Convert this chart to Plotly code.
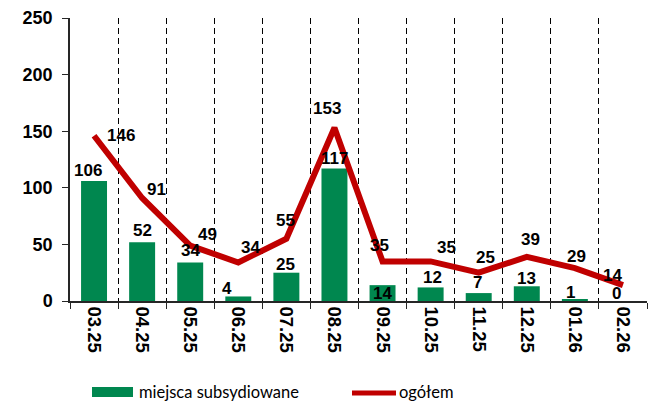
import plotly.graph_objects as go

categories = ["03.25", "04.25", "05.25", "06.25", "07.25", "08.25",
              "09.25", "10.25", "11.25", "12.25", "01.26", "02.26"]
subsidised = [106, 52, 34, 4, 25, 117, 14, 12, 7, 13, 1, 0]
total = [146, 91, 49, 34, 55, 153, 35, 35, 25, 39, 29, 14]

bar_name = "miejsca subsydiowane"
line_name = "ogółem"

GREEN = "#00874F"
RED = "#C00000"
NUM_FONT = dict(family="Liberation Sans, Arial, sans-serif", size=17, color="#000000")

# label offsets (pixels) for styling
bar_lbl_shift = [(-6, 11), (0, 12), (0, 12), (-11, 8), (-1, 8), (0, 10),
                 (0, -8), (2, 10), (-1, 11), (0, 8), (-4, 7), (-6, 8)]
line_lbl_shift = [(27, 0), (14, 8), (17, 11), (12, 15), (-1, 18), (-7, 19),
                  (-3, 16), (16, 14), (7, 15), (4, 17), (2, 12), (-10, 10)]

fig = go.Figure()
fig.add_trace(go.Bar(x=categories, y=subsidised, name=bar_name,
                     marker=dict(color=GREEN, line=dict(width=0)),
                     showlegend=False, hoverinfo="x+y"))
fig.add_trace(go.Scatter(x=categories, y=total, name=line_name, mode="lines",
                         line=dict(color=RED, width=6),
                         showlegend=False, hoverinfo="x+y"))

annotations = []
for i, (v, (dx, dy)) in enumerate(zip(subsidised, bar_lbl_shift)):
    annotations.append(dict(x=i, y=v, xref="x", yref="y", text=f"<b>{v}</b>",
                            showarrow=False, xshift=dx, yshift=dy,
                            xanchor="center", yanchor="middle", font=NUM_FONT))
for i, (v, (dx, dy)) in enumerate(zip(total, line_lbl_shift)):
    annotations.append(dict(x=i, y=v, xref="x", yref="y", text=f"<b>{v}</b>",
                            showarrow=False, xshift=dx, yshift=dy,
                            xanchor="center", yanchor="middle", font=NUM_FONT))

# custom legend
PW, PH, L, T = 577.0, 283.0, 70.0, 18.0
def px(x):
    return (x - L) / PW
def py(y):
    return (T + PH - y) / PH

LEG_FONT = dict(family="Lato, Open Sans, sans-serif", size=16.5, color="#000000")
shapes = [
    dict(type="rect", xref="paper", yref="paper", x0=px(92), x1=px(133),
         y0=py(397), y1=py(387), fillcolor=GREEN, line=dict(width=0)),
    dict(type="line", xref="paper", yref="paper", x0=px(352), x1=px(396),
         y0=py(393), y1=py(393), line=dict(color=RED, width=5)),
]
annotations.append(dict(x=px(137), y=py(392), xref="paper", yref="paper",
                        text=bar_name, showarrow=False, xanchor="left",
                        yanchor="middle", font=LEG_FONT))
annotations.append(dict(x=px(397), y=py(392), xref="paper", yref="paper",
                        text=line_name, showarrow=False, xanchor="left",
                        yanchor="middle", font=LEG_FONT))

fig.update_layout(
    width=651, height=403,
    margin=dict(l=70, r=4, t=18, b=102, pad=0, autoexpand=False),
    paper_bgcolor="white", plot_bgcolor="white",
    bargap=0.46,
    annotations=annotations, shapes=shapes,
    showlegend=False,
)
fig.update_xaxes(
    type="category", tickson="boundaries", automargin=False,
    showgrid=True, gridcolor="#000000", gridwidth=1, griddash="6px,4px",
    showline=True, linecolor="#262626", linewidth=1.5,
    ticks="outside", ticklen=6, tickcolor="#262626",
    tickangle=90,
    tickfont=dict(family="Liberation Sans, Arial, sans-serif", size=18.5, color="#000000", weight="bold"),
)
fig.update_yaxes(
    range=[0, 250], dtick=50, showgrid=False, zeroline=False, automargin=False,
    showline=True, linecolor="#262626", linewidth=1.5,
    ticks="outside", ticklen=6, tickcolor="#262626", ticklabelstandoff=6,
    tickfont=dict(family="Liberation Sans, Arial, sans-serif", size=18, color="#000000", weight="bold"),
)

fig.write_html("out.html", config={"displayModeBar": False},
               post_script="document.body.style.margin='0';document.body.style.overflow='hidden';")
